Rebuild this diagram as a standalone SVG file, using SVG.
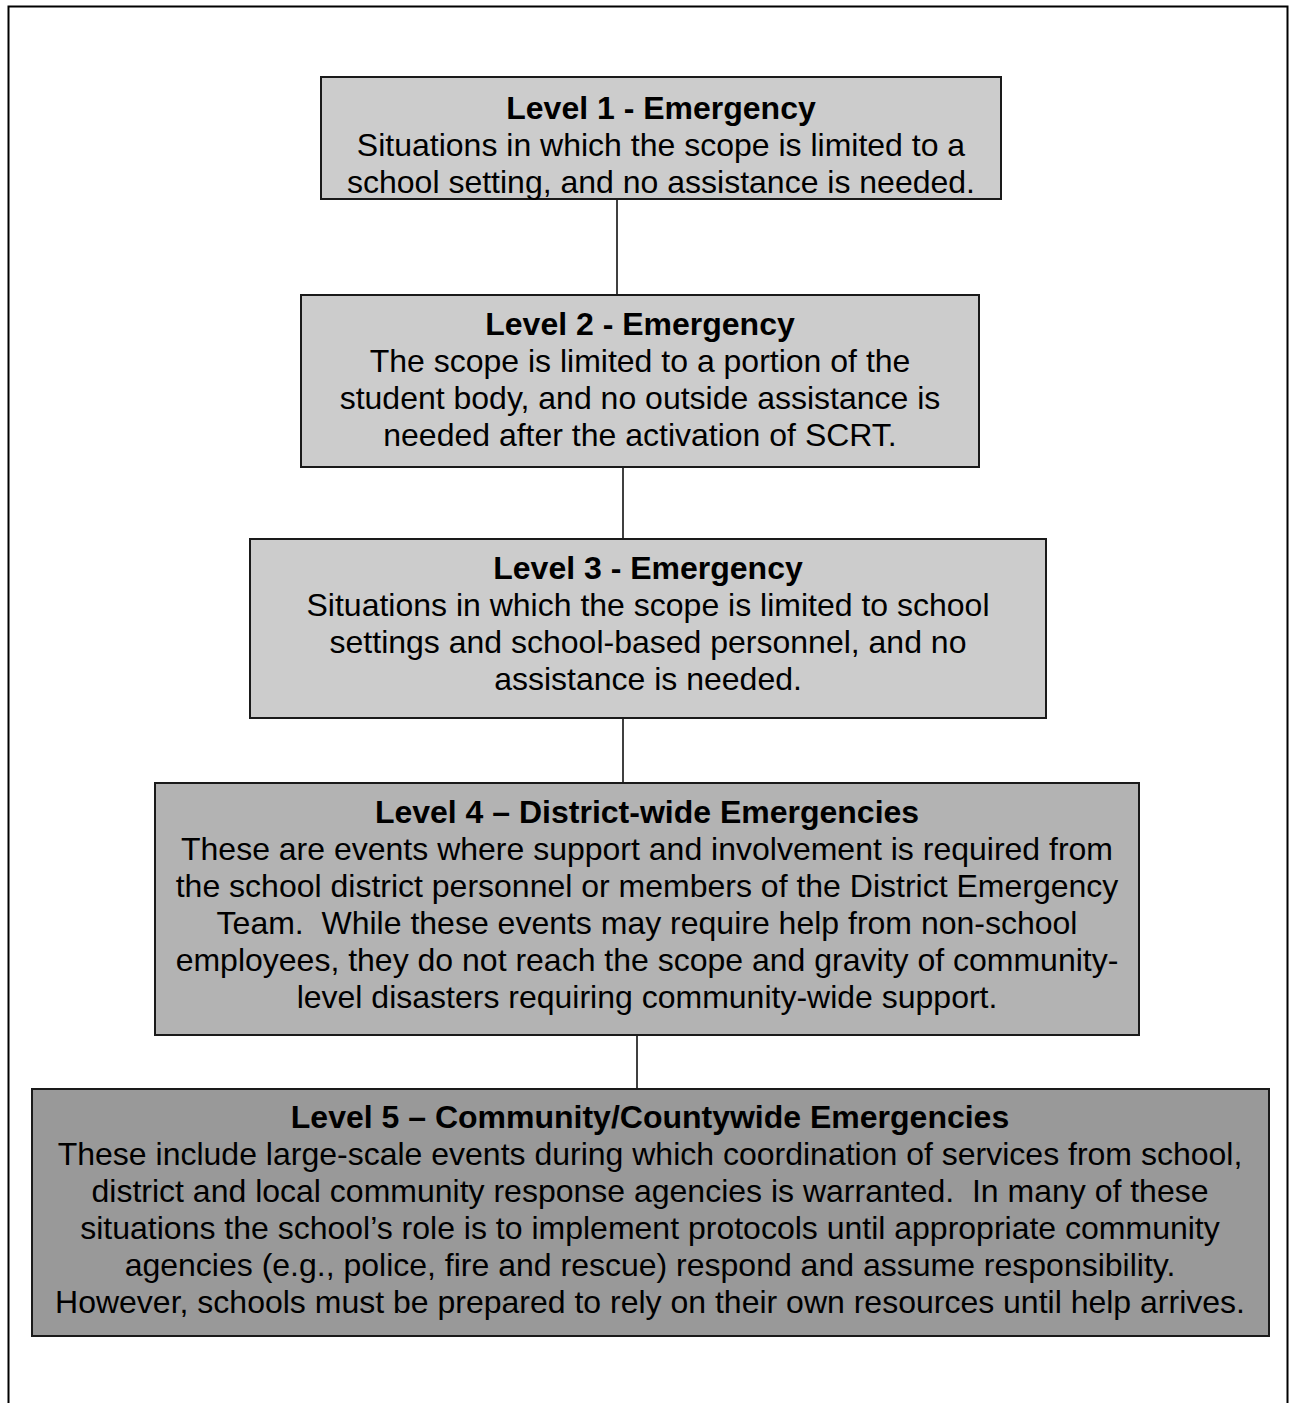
<svg xmlns="http://www.w3.org/2000/svg" width="1289" height="1403" viewBox="0 0 1289 1403">
<style>
  .box { stroke: #1a1a1a; stroke-width: 2; }
  .l123 { fill: #cccccc; }
  .l4 { fill: #b3b3b3; }
  .l5 { fill: #999999; }
  text { font-family: "Liberation Sans", Arial, sans-serif; font-size: 32px; fill: #000; text-anchor: middle; white-space: pre; }
  .t { font-weight: bold; }
  .conn { stroke: #000; stroke-width: 1.5; fill: none; }
  .frame { stroke: #000; stroke-width: 2; fill: none; }
</style>
<rect x="0" y="0" width="1289" height="1403" fill="#ffffff"/>
<path class="frame" d="M8.5,1403 V6.5 H1287.5 V1403"/>
<g id="connectors">
  <line class="conn" x1="617" y1="199" x2="617" y2="295"/>
  <line class="conn" x1="623" y1="467" x2="623" y2="539"/>
  <line class="conn" x1="623" y1="718" x2="623" y2="782"/>
  <line class="conn" x1="637" y1="1035" x2="637" y2="1089"/>
</g>
<g id="level1">
  <rect class="box l123" x="321" y="77" width="680" height="122"/>
  <text class="t" x="661" y="119">Level 1 - Emergency</text>
  <text x="661" y="156">Situations in which the scope is limited to a</text>
  <text x="661" y="193">school setting, and no assistance is needed.</text>
</g>
<g id="level2">
  <rect class="box l123" x="301" y="295" width="678" height="172"/>
  <text class="t" x="640" y="335">Level 2 - Emergency</text>
  <text x="640" y="372">The scope is limited to a portion of the</text>
  <text x="640" y="409">student body, and no outside assistance is</text>
  <text x="640" y="446">needed after the activation of SCRT.</text>
</g>
<g id="level3">
  <rect class="box l123" x="250" y="539" width="796" height="179"/>
  <text class="t" x="648" y="579">Level 3 - Emergency</text>
  <text x="648" y="616">Situations in which the scope is limited to school</text>
  <text x="648" y="653">settings and school-based personnel, and no</text>
  <text x="648" y="690">assistance is needed.</text>
</g>
<g id="level4">
  <rect class="box l4" x="155" y="783" width="984" height="252"/>
  <text class="t" x="647" y="823">Level 4 – District-wide Emergencies</text>
  <text x="647" y="860">These are events where support and involvement is required from</text>
  <text x="647" y="897">the school district personnel or members of the District Emergency</text>
  <text x="647" y="934">Team.  While these events may require help from non-school</text>
  <text x="647" y="971">employees, they do not reach the scope and gravity of community-</text>
  <text x="647" y="1008">level disasters requiring community-wide support.</text>
</g>
<g id="level5">
  <rect class="box l5" x="32" y="1089" width="1237" height="247"/>
  <text class="t" x="650" y="1128">Level 5 – Community/Countywide Emergencies</text>
  <text x="650" y="1165">These include large-scale events during which coordination of services from school,</text>
  <text x="650" y="1202">district and local community response agencies is warranted.  In many of these</text>
  <text x="650" y="1239">situations the school’s role is to implement protocols until appropriate community</text>
  <text x="650" y="1276">agencies (e.g., police, fire and rescue) respond and assume responsibility.</text>
  <text x="650" y="1313">However, schools must be prepared to rely on their own resources until help arrives.</text>
</g>
</svg>
